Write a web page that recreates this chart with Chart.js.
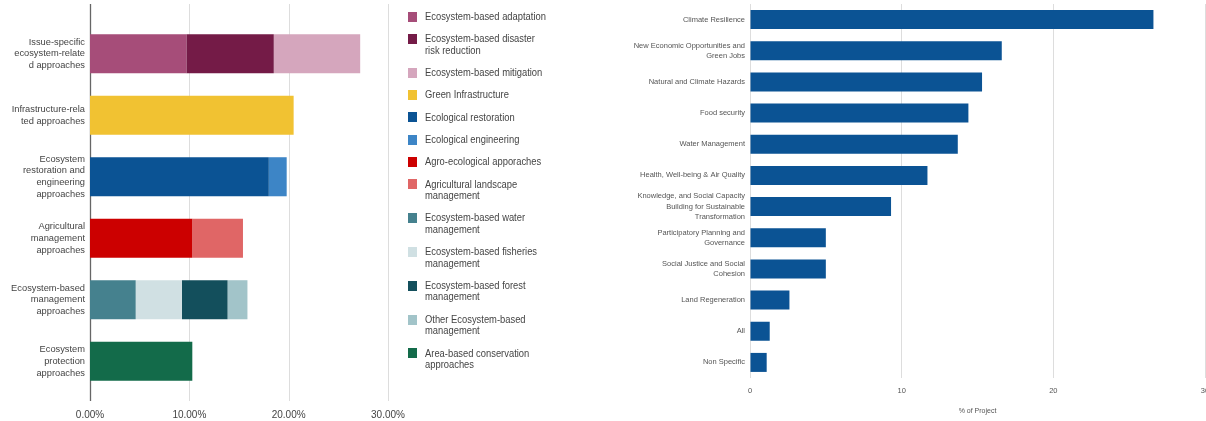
<!DOCTYPE html>
<html><head><meta charset="utf-8">
<script src="https://cdn.jsdelivr.net/npm/chart.js@4.4.1/dist/chart.umd.min.js"></script>
<style>
html,body{margin:0;padding:0;background:#fff;overflow:hidden;width:1206px;height:421px;position:relative;}
#leftWrap{position:absolute;left:0;top:0;width:420px;height:421px;}
#rightWrap{position:absolute;left:620px;top:0;width:620px;height:421px;}
#legend{position:absolute;left:408px;top:11px;z-index:2;font-family:"Liberation Sans",Arial,sans-serif;font-size:11.3px;line-height:11.5px;color:#444;}
.item{display:flex;align-items:flex-start;margin-bottom:10.8px;}
.sw{width:9px;height:10px;margin-top:0.75px;margin-right:8px;flex:none;}
.tx{transform:scaleX(0.83);transform-origin:0 0;white-space:nowrap;}
</style>
</head><body>
<div id="leftWrap"><canvas id="left"></canvas></div>
<div id="legend"></div>
<div id="rightWrap"><canvas id="right"></canvas></div>
<script>
// ---------- Left chart data ----------
const leftCategories = [
  ["Issue-specific","ecosystem-relate","d approaches"],
  ["Infrastructure-rela","ted approaches"],
  ["Ecosystem","restoration and","engineering","approaches"],
  ["Agricultural","management","approaches"],
  ["Ecosystem-based","management","approaches"],
  ["Ecosystem","protection","approaches"]
];
const leftTickLabels = ["0.00%","10.00%","20.00%","30.00%"];

const seriesNames = [
  ["Ecosystem-based adaptation"],
  ["Ecosystem-based disaster","risk reduction"],
  ["Ecosystem-based mitigation"],
  ["Green Infrastructure"],
  ["Ecological restoration"],
  ["Ecological engineering"],
  ["Agro-ecological apporaches"],
  ["Agricultural landscape","management"],
  ["Ecosystem-based water","management"],
  ["Ecosystem-based fisheries","management"],
  ["Ecosystem-based forest","management"],
  ["Other Ecosystem-based","management"],
  ["Area-based conservation","approaches"]
];
const seriesColors = ["#a64d79","#741b47","#d5a6bd","#f1c232","#0b5394","#3d85c6","#cc0000","#e06666","#45818e","#d0e0e3","#134f5c","#a2c4c9","#136b4a"];

const ecosystemBasedAdaptation      = [9.7, null, null, null, null, null];
const ecosystemBasedDisasterRisk    = [8.8, null, null, null, null, null];
const ecosystemBasedMitigation      = [8.7, null, null, null, null, null];
const greenInfrastructure           = [null, 20.5, null, null, null, null];
const ecologicalRestoration         = [null, null, 18.0, null, null, null];
const ecologicalEngineering         = [null, null, 1.8, null, null, null];
const agroEcologicalApproaches      = [null, null, null, 10.3, null, null];
const agriculturalLandscape         = [null, null, null, 5.1, null, null];
const ecosystemBasedWater           = [null, null, null, null, 4.6, null];
const ecosystemBasedFisheries       = [null, null, null, null, 4.65, null];
const ecosystemBasedForest          = [null, null, null, null, 4.6, null];
const otherEcosystemBased           = [null, null, null, null, 2.0, null];
const areaBasedConservation         = [null, null, null, null, null, 10.3];

const leftSeries = [ecosystemBasedAdaptation, ecosystemBasedDisasterRisk, ecosystemBasedMitigation,
  greenInfrastructure, ecologicalRestoration, ecologicalEngineering, agroEcologicalApproaches,
  agriculturalLandscape, ecosystemBasedWater, ecosystemBasedFisheries, ecosystemBasedForest,
  otherEcosystemBased, areaBasedConservation];

// ---------- Right chart data ----------
const rightCategories = [
  "Climate Resilience",
  ["New Economic Opportunities and","Green Jobs"],
  "Natural and Climate Hazards",
  "Food security",
  "Water Management",
  "Health, Well-being & Air Quality",
  ["Knowledge, and Social Capacity","Building for Sustainable","Transformation"],
  ["Participatory Planning and","Governance"],
  ["Social Justice and Social","Cohesion"],
  "Land Regeneration",
  "All",
  "Non Specific"
];
const rightValues = [26.6, 16.6, 15.3, 14.4, 13.7, 11.7, 9.3, 5.0, 5.0, 2.6, 1.3, 1.1];
const rightTickLabels = ["0","10","20","30"];
const rightAxisTitle = "% of Project";

// ---------- Legend (HTML text) ----------
const legendEl = document.getElementById('legend');
seriesNames.forEach((lines, i) => {
  const item = document.createElement('div'); item.className = 'item';
  const sw = document.createElement('div'); sw.className = 'sw'; sw.style.background = seriesColors[i];
  const tx = document.createElement('div'); tx.className = 'tx'; tx.innerHTML = lines.join('<br>');
  item.appendChild(sw); item.appendChild(tx); legendEl.appendChild(item);
});

Chart.defaults.animation = false;
Chart.defaults.font.family = '"Liberation Sans",Arial,sans-serif';

const noPad = s => { s.paddingTop = 0; s.paddingBottom = 0; s.paddingLeft = 0; s.paddingRight = 0; };

// gridlines spanning taller than the chart area (left chart)
const tallGrid = {
  id: 'tallGrid',
  beforeDatasetsDraw(chart) {
    const xs = chart.scales.x, ctx = chart.ctx;
    ctx.save();
    xs.ticks.forEach((t, i) => {
      const x = Math.round(xs.getPixelForValue(t.value)) + 0.5;
      ctx.strokeStyle = i === 0 ? '#666' : '#ddd';
      ctx.lineWidth = i === 0 ? 1.3 : 1;
      ctx.beginPath(); ctx.moveTo(x, 4); ctx.lineTo(x, 401); ctx.stroke();
    });
    ctx.restore();
  }
};

new Chart(document.getElementById('left'), {
  type: 'bar',
  data: {
    labels: leftCategories,
    datasets: leftSeries.map((d, i) => ({
      label: seriesNames[i].join(' '),
      data: d,
      backgroundColor: seriesColors[i],
      borderWidth: 0,
      barPercentage: 0.635,
      categoryPercentage: 1
    }))
  },
  options: {
    indexAxis: 'y',
    responsive: true,
    maintainAspectRatio: false,
    layout: { padding: { left: 0, right: 32, top: 23, bottom: 0 } },
    plugins: { legend: { display: false }, tooltip: { enabled: false } },
    scales: {
      x: {
        stacked: true, min: 0, max: 30,
        grid: { display: false, drawTicks: false },
        border: { display: false },
        ticks: { stepSize: 10, padding: 17, color: '#444', font: { size: 10 },
          callback: (v, i) => leftTickLabels[i] },
        afterFit: s => { s.height = 29; noPad(s); }
      },
      y: {
        stacked: true,
        grid: { display: false, drawTicks: false },
        border: { display: false },
        ticks: { autoSkip: false, padding: 5, color: '#444', font: { size: 9.3, lineHeight: 1.26 } },
        afterFit: s => { s.width = 90; noPad(s); }
      }
    }
  },
  plugins: [tallGrid]
});

new Chart(document.getElementById('right'), {
  type: 'bar',
  data: {
    labels: rightCategories,
    datasets: [{
      label: rightAxisTitle,
      data: rightValues,
      backgroundColor: '#0b5394',
      borderWidth: 0,
      barPercentage: 0.61,
      categoryPercentage: 1
    }]
  },
  options: {
    indexAxis: 'y',
    responsive: true,
    maintainAspectRatio: false,
    layout: { padding: { left: 0, right: 35, top: 4, bottom: 0 } },
    plugins: { legend: { display: false }, tooltip: { enabled: false } },
    scales: {
      x: {
        min: 0, max: 30,
        grid: { color: '#ddd', drawTicks: false },
        border: { display: false },
        ticks: { stepSize: 10, padding: 8, color: '#555', font: { size: 7.5 },
          callback: (v, i) => rightTickLabels[i] },
        title: { display: true, text: rightAxisTitle, color: '#555', font: { size: 7 }, padding: { top: 8, bottom: 6 } },
        afterFit: s => { s.height = 43; noPad(s); }
      },
      y: {
        grid: { display: false, drawTicks: false },
        border: { display: false },
        ticks: { autoSkip: false, padding: 5, color: '#555', font: { size: 7.5, lineHeight: 1.36 } },
        afterFit: s => { s.width = 130; noPad(s); }
      }
    }
  }
});
</script>
</body></html>
